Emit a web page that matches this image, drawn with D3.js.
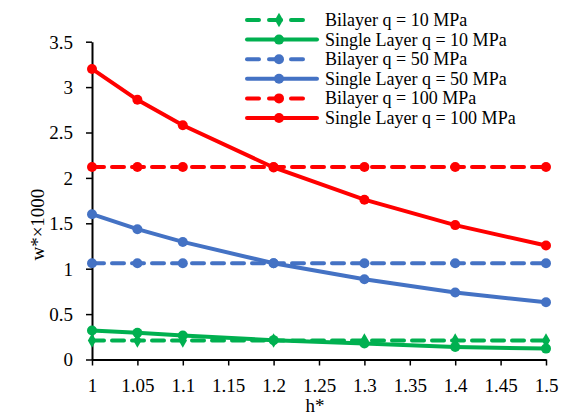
<!DOCTYPE html>
<html>
<head>
<meta charset="utf-8">
<script src="https://cdn.jsdelivr.net/npm/d3@7"></script>
<style>
  html, body { margin: 0; padding: 0; background: #fff; }
  svg { display: block; }
</style>
</head>
<body>
<svg id="chart" width="566" height="415" font-family="Liberation Serif"></svg>
<script>
// Normalised thickness h* and deflection w*×1000 for each load case
const hStar = [1, 1.05, 1.1, 1.2, 1.3, 1.4, 1.5];

const bilayer10   = [0.21, 0.21, 0.21, 0.21, 0.21, 0.21, 0.21];
const single10    = [0.32, 0.295, 0.265, 0.213, 0.176, 0.139, 0.12];
const bilayer50   = [1.06, 1.06, 1.06, 1.06, 1.06, 1.06, 1.06];
const single50    = [1.6, 1.435, 1.295, 1.06, 0.884, 0.738, 0.63];
const bilayer100  = [2.12, 2.12, 2.12, 2.12, 2.12, 2.12, 2.12];
const single100   = [3.2, 2.86, 2.58, 2.115, 1.76, 1.48, 1.255];

const xTicks = [1, 1.05, 1.1, 1.15, 1.2, 1.25, 1.3, 1.35, 1.4, 1.45, 1.5];
const yTicks = [0, 0.5, 1, 1.5, 2, 2.5, 3, 3.5];

const seriesList = [
  { name: "Bilayer q = 10 MPa",       values: bilayer10,  color: "#00B050", dashed: true,  marker: "diamond" },
  { name: "Single Layer q = 10 MPa",  values: single10,   color: "#00B050", dashed: false, marker: "circle" },
  { name: "Bilayer q = 50 MPa",       values: bilayer50,  color: "#4472C4", dashed: true,  marker: "circle" },
  { name: "Single Layer q = 50 MPa",  values: single50,   color: "#4472C4", dashed: false, marker: "circle" },
  { name: "Bilayer q = 100 MPa",      values: bilayer100, color: "#FF0000", dashed: true,  marker: "circle" },
  { name: "Single Layer q = 100 MPa", values: single100,  color: "#FF0000", dashed: false, marker: "circle" }
];

const FONT = '"Liberation Serif", "Times New Roman", Tinos, serif';
const svg = d3.select("#chart");

const x = d3.scaleLinear().domain([1, 1.5]).range([92, 546]);
const y = d3.scaleLinear().domain([0, 3.5]).range([359.5, 41.7]);

const dash = "12,8";
const lineW = 4;

function serif(sel, size) {
  return sel.attr("font-family", "Liberation Serif").attr("font-size", size)
    .style("font", `${size}px ${FONT}`);
}

// Axes
const xAxis = svg.append("g")
  .attr("transform", `translate(0,${y(0)})`)
  .call(d3.axisBottom(x).tickValues(xTicks).tickSize(6).tickSizeOuter(0)
    .tickFormat(d => String(+d.toFixed(2))));
const yAxis = svg.append("g")
  .attr("transform", `translate(${x(1)},0)`)
  .call(d3.axisLeft(y).tickValues(yTicks).tickSize(6).tickSizeOuter(0)
    .tickFormat(d => String(d)));

[xAxis, yAxis].forEach(a => {
  a.attr("font-family", "Liberation Serif");
  a.select(".domain").attr("stroke", "#000").attr("stroke-width", 2);
  a.selectAll(".tick line").attr("stroke", "#000").attr("stroke-width", 1.5);
  serif(a.selectAll(".tick text").attr("fill", "#000"), 19);
});
xAxis.selectAll(".tick text").attr("dy", "0").attr("y", 32);
yAxis.selectAll(".tick text").attr("x", -19).attr("dy", "0.34em");

// Axis titles
serif(svg.append("text"), 19)
  .attr("x", (x(1) + x(1.5)) / 2 - 4).attr("y", 412)
  .attr("text-anchor", "middle").attr("fill", "#000").text("h*");
serif(svg.append("text"), 19)
  .attr("transform", `translate(44,${(y(0) + y(3.5)) / 2 + 24}) rotate(-90)`)
  .attr("text-anchor", "middle").attr("fill", "#000").text("w*×1000");

const line = d3.line().x((d, i) => x(hStar[i])).y(d => y(d));

function drawMarker(g, cx, cy, s) {
  if (s.marker === "diamond") {
    g.append("path")
      .attr("d", d3.symbol().type(d3.symbolDiamond).size(60)())
      .attr("transform", `translate(${cx},${cy})`)
      .attr("fill", s.color);
  } else {
    g.append("circle").attr("cx", cx).attr("cy", cy).attr("r", 5).attr("fill", s.color);
  }
}

// Series lines and markers
const plot = svg.append("g");
seriesList.forEach(s => {
  const g = plot.append("g");
  g.append("path")
    .datum(s.values)
    .attr("d", line)
    .attr("fill", "none")
    .attr("stroke", s.color)
    .attr("stroke-width", lineW)
    .attr("stroke-linecap", "round")
    .attr("stroke-dasharray", s.dashed ? dash : null);
  s.values.forEach((v, i) => drawMarker(g, x(hStar[i]), y(v), s));
});

// Legend
const legend = svg.append("g");
const lx0 = 247, lx1 = 317, ly0 = 20, lStep = 19.6;
seriesList.forEach((s, i) => {
  const ly = ly0 + i * lStep;
  const g = legend.append("g");
  g.append("line")
    .attr("x1", lx0).attr("x2", s.dashed ? 309 : lx1)
    .attr("y1", ly).attr("y2", ly)
    .attr("stroke", s.color).attr("stroke-width", lineW)
    .attr("stroke-linecap", "round")
    .attr("stroke-dasharray", s.dashed ? "12,10" : null);
  drawMarker(g, (lx0 + lx1) / 2 - 3, ly, s);
  serif(g.append("text"), 18)
    .attr("x", 325).attr("y", ly + 6)
    .attr("fill", "#000")
    .text(s.name);
});
</script>
</body>
</html>
